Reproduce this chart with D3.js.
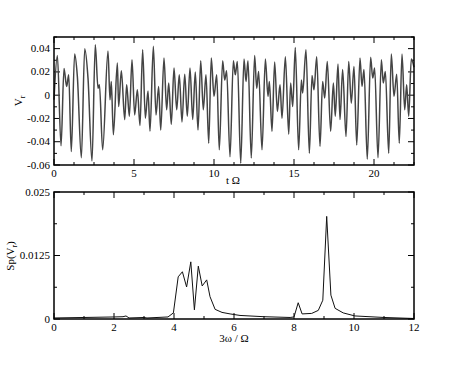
<!DOCTYPE html>
<html>
<head>
<meta charset="utf-8">
<script src="https://cdn.jsdelivr.net/npm/d3@7"></script>
<style>
  body { margin: 0; background: #fff; }
  text { font-family: "Liberation Serif", "Times New Roman", serif; }
</style>
</head>
<body>
<div class="chart"></div>
<script>
// top panel: V_r(t), extrema
var tTime = [0, 0.21, 0.44, 0.625, 0.79, 0.92, 1.08, 1.29, 1.46, 1.71, 1.92, 2.125, 2.375, 2.58, 2.75, 2.84, 3.04,
  3.375, 3.5, 3.58, 3.71, 3.96, 4.04, 4.21, 4.42, 4.54, 4.71, 4.875, 5.04, 5.21, 5.375, 5.54, 5.71, 5.875, 6.0,
  6.21, 6.375, 6.54, 6.67, 6.875, 7.04, 7.17, 7.33, 7.5, 7.67, 7.83, 8.0, 8.17, 8.33, 8.5, 8.67, 8.83, 9.0,
  9.17, 9.33, 9.5, 9.67, 9.83, 10.0, 10.17, 10.33, 10.54, 10.67, 10.79, 11.0, 11.21, 11.33, 11.46, 11.67,
  11.875, 12.0, 12.125, 12.33, 12.54, 12.67, 12.79, 13.0, 13.21, 13.375, 13.46, 13.625, 13.79, 13.96, 14.125,
  14.25, 14.46, 14.67, 14.79, 14.92, 15.08, 15.29, 15.46, 15.54, 15.75, 15.96, 16.125, 16.25, 16.42, 16.625,
  16.79, 16.92, 17.08, 17.29, 17.46, 17.58, 17.75, 17.875, 18.04, 18.25, 18.42, 18.58, 18.75, 18.92, 19.125,
  19.25, 19.375, 19.58, 19.79, 19.92, 20.04, 20.25, 20.46, 20.58, 20.71, 20.92, 21.08, 21.25, 21.42, 21.58,
  21.75, 21.92, 22.04, 22.17, 22.33, 22.5];
var vr = [-0.004, 0.034, -0.0435, 0.023, 0.0075, 0.0175, -0.0485, 0.0353, 0.016, -0.0537, 0.040, 0.0147, -0.0566,
  0.0434, 0.006, 0.009, -0.047, 0.038, -0.004, 0.0118, -0.034, 0.0276, -0.0098, 0.021, -0.021, 0.009, -0.018,
  0.0305, -0.017, 0.0046, -0.026, 0.039, -0.0198, 0.0037, -0.031, 0.042, -0.017, 0.0075, -0.03, 0.032, -0.0126,
  0.0104, -0.025, 0.0233, -0.0126, 0.0175, -0.023, 0.018, -0.018, 0.0233, -0.021, 0.02, -0.03, 0.0296, -0.0126,
  0.0175, -0.0413, 0.032, -0.001, 0.0175, -0.047, 0.0296, 0.013, 0.021, -0.053, 0.0296, 0.0175, 0.029, -0.0585,
  0.031, 0.0118, 0.0296, -0.054, 0.034, 0.006, 0.0204, -0.047, 0.031, -0.001, 0.0118, -0.031, 0.0285, -0.014,
  0.009, -0.0198, 0.033, -0.0335, 0.0104, -0.0098, 0.041, -0.047, 0.013, 0.0018, 0.039, -0.05, 0.017, 0.0046,
  0.033, -0.044, 0.0118, -0.0025, 0.029, -0.031, 0.0104, -0.018, 0.0267, -0.021, 0.022, -0.0356, 0.029, -0.0069,
  0.0247, -0.0428, 0.032, 0.0075, 0.022, -0.055, 0.0325, 0.0147, 0.0233, -0.0537, 0.0305, 0.0104, 0.0204, -0.05,
  0.0353, -0.001, 0.018, -0.0413, 0.0353, -0.0126, 0.009, -0.018, 0.031, 0.024];

// bottom panel: spectrum Sp(V_r)
var freq = [0, 1.0, 2.0, 2.3, 2.4, 2.5, 3.0, 3.1, 3.8, 3.98, 4.14, 4.28, 4.42, 4.56, 4.68, 4.81, 4.94, 5.09, 5.2,
  5.37, 5.6, 5.87, 6.2, 7.0, 7.87, 8.0, 8.14, 8.27, 8.59, 8.81, 8.96, 9.09, 9.23, 9.37, 9.64, 10.03, 11.0, 12.0];
var spec = [0.0002, 0.0003, 0.0004, 0.00045, 0.0006, 0.0002, 0.0003, 0.0002, 0.0004, 0.0012, 0.0083, 0.0093,
  0.0063, 0.01125, 0.0018, 0.0104, 0.0065, 0.0077, 0.0044, 0.0019, 0.0013, 0.001, 0.0007, 0.00045, 0.0003,
  0.0004, 0.0032, 0.001, 0.0011, 0.0017, 0.0037, 0.0202, 0.0047, 0.0021, 0.0012, 0.0006, 0.0003, 0.0001];

var topTicksX = [0, 5, 10, 15, 20];
var topTicksY = [-0.06, -0.04, -0.02, 0, 0.02, 0.04];
var botTicksX = [0, 2, 4, 6, 8, 10, 12];
var botTicksY = [0, 0.0125, 0.025];

var width = 469, height = 376;
var svg = d3.select(".chart").append("svg")
  .attr("width", width)
  .attr("height", height)
  .style("font-size", "11px");

var left = 54, right = 414;

function panel(opts) {
  var x = d3.scaleLinear().domain(opts.xDomain).range([left, right]);
  var y = d3.scaleLinear().domain(opts.yDomain).range([opts.bottom, opts.top]);
  var g = svg.append("g");

  // ticks on all four sides, pointing inward
  var xMinor = d3.range(opts.xDomain[0], opts.xDomain[1] + 1e-9, opts.xMinor);
  var yMinor = d3.range(opts.yDomain[0], opts.yDomain[1] + 1e-9, opts.yMinor);
  function isMajor(v, list) { return list.some(function(m) { return Math.abs(m - v) < 1e-9; }); }

  var tk = g.append("g").attr("stroke", "#000").attr("stroke-width", 1);
  xMinor.forEach(function(v) {
    var len = isMajor(v, opts.xTicks) ? 6 : 3;
    tk.append("line").attr("x1", x(v)).attr("x2", x(v)).attr("y1", opts.bottom).attr("y2", opts.bottom - len);
    tk.append("line").attr("x1", x(v)).attr("x2", x(v)).attr("y1", opts.top).attr("y2", opts.top + len);
  });
  yMinor.forEach(function(v) {
    var len = isMajor(v, opts.yTicks) ? 6 : 3;
    tk.append("line").attr("y1", y(v)).attr("y2", y(v)).attr("x1", left).attr("x2", left + len);
    tk.append("line").attr("y1", y(v)).attr("y2", y(v)).attr("x1", right).attr("x2", right - len);
  });

  g.append("g").selectAll("text").data(opts.xTicks).enter().append("text")
    .attr("x", d => x(d)).attr("y", opts.bottom + 12)
    .attr("text-anchor", "middle")
    .text(d => d);
  g.append("g").selectAll("text").data(opts.yTicks).enter().append("text")
    .attr("x", left - 4).attr("y", d => y(d) + 3.5)
    .attr("text-anchor", "end")
    .text(opts.yFormat);

  var line = d3.line()
    .x(d => x(d[0]))
    .y(d => y(d[1]))
    .curve(opts.curve);
  g.append("path")
    .datum(d3.zip(opts.xs, opts.ys))
    .attr("fill", "none")
    .attr("stroke", opts.color)
    .attr("stroke-width", opts.lw)
    .attr("stroke-linejoin", "round")
    .attr("d", line);

  g.append("rect")
    .attr("x", left).attr("y", opts.top)
    .attr("width", right - left).attr("height", opts.bottom - opts.top)
    .attr("fill", "none").attr("stroke", "#000").attr("stroke-width", 1.5);
  return g;
}

panel({
  xDomain: [0, 22.5], yDomain: [-0.06, 0.05], top: 37, bottom: 165,
  xTicks: topTicksX, yTicks: topTicksY, xMinor: 1.25, yMinor: 0.01,
  yFormat: d => d === 0 ? "0" : d3.format(".2f")(d).replace("−", "-"),
  xs: tTime, ys: vr, curve: d3.curveMonotoneX, color: "#444", lw: 1.5
});

panel({
  xDomain: [0, 12], yDomain: [0, 0.025], top: 192, bottom: 319,
  xTicks: botTicksX, yTicks: botTicksY, xMinor: 1, yMinor: 0.00625,
  yFormat: d => d === 0 ? "0" : String(d),
  xs: freq, ys: spec, curve: d3.curveLinear, color: "#111", lw: 1
});

// axis titles
var vl = svg.append("text").attr("transform", "translate(22,101) rotate(-90)").attr("text-anchor", "middle");
vl.append("tspan").text("V");
vl.append("tspan").attr("dy", 3).style("font-size", "7.5px").text("r");

svg.append("text").attr("x", 233).attr("y", 184).attr("text-anchor", "middle").text("t Ω");

var sl = svg.append("text").attr("transform", "translate(14,256) rotate(-90)").attr("text-anchor", "middle");
sl.append("tspan").text("Sp(V");
sl.append("tspan").attr("dy", 3).style("font-size", "7.5px").text("r");
sl.append("tspan").attr("dy", -3).text(")");

svg.append("text").attr("x", 234).attr("y", 342).attr("text-anchor", "middle").text("3ω / Ω");
</script>
</body>
</html>
